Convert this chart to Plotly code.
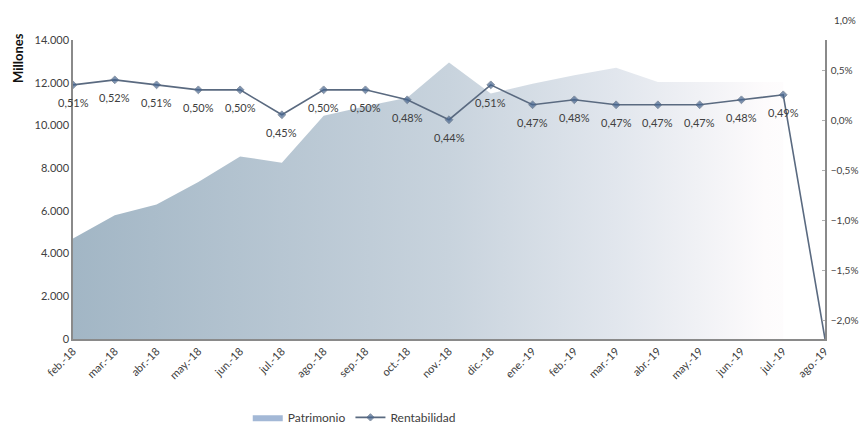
import plotly.graph_objects as go

categories = ["feb.-18", "mar.-18", "abr.-18", "may.-18", "jun.-18", "jul.-18", "ago.-18",
              "sep.-18", "oct.-18", "nov.-18", "dic.-18", "ene.-19", "feb.-19", "mar.-19",
              "abr.-19", "may.-19", "jun.-19", "jul.-19", "ago.-19"]
patrimonio = [4700, 5800, 6300, 7350, 8550, 8250, 10450, 10900, 11300, 12950, 11500, 11950,
              12350, 12700, 12030, 12030, 12030, 12030, None]
rentabilidad = [0.0051, 0.0052, 0.0051, 0.0050, 0.0050, 0.0045, 0.0050, 0.0050, 0.0048, 0.0044,
                0.0051, 0.0047, 0.0048, 0.0047, 0.0047, 0.0047, 0.0048, 0.0049, 0.0]
right_ticks = [-0.02, -0.015, -0.01, -0.005, 0.0, 0.005]

FONT = "Lato"
TXT = "#404040"
AXC = "#8a8a8a"

fig = go.Figure()
fig.add_trace(go.Scatter(
    x=categories, y=patrimonio, name="Patrimonio", mode="lines", showlegend=False,
    line=dict(width=0, color="#a3b8d6"), fill="tozeroy",
    fillgradient=dict(type="horizontal", start=0, stop=18, colorscale=[
        [0.0, "rgb(162,182,197)"], [0.5, "rgb(200,211,221)"], [0.72, "rgb(225,230,237)"],
        [0.83, "rgb(240,241,245)"], [0.92, "rgb(253,251,252)"], [1.0, "rgb(255,255,255)"]]),
    hoverinfo="skip"))
# legend entry for Patrimonio (solid swatch, as in the original)
fig.add_trace(go.Scatter(
    x=[categories[0]], y=[None], name="Patrimonio", mode="lines", fill="tozeroy",
    fillcolor="#a3b8d6", line=dict(width=0, color="#a3b8d6"), hoverinfo="skip"))
fig.add_trace(go.Scatter(
    x=[categories[0]], y=[None], yaxis="y2", showlegend=False, hoverinfo="skip", mode="lines"))
fig.add_trace(go.Scatter(
    x=categories, y=rentabilidad, name="Rentabilidad", yaxis="y3", mode="lines+markers",
    line=dict(color="#5a6a80", width=1.6),
    marker=dict(symbol="diamond", size=[6] * (len(categories) - 1) + [0], color="#46658f")))

for c, v in zip(categories[:-1], rentabilidad[:-1]):
    fig.add_annotation(x=c, y=v, yref="y3", yshift=-18, showarrow=False,
                       text=f"{v*100:.2f}%".replace(".", ","),
                       font=dict(family=FONT, size=11, color=TXT))

fig.add_annotation(xref="paper", yref="paper", x=(832 - 73) / 752, y=1 + 20 / 299,
                   xanchor="left", yanchor="middle", showarrow=False, text="1,0%",
                   font=dict(family=FONT, size=10, color=TXT))
fig.add_annotation(xref="paper", yref="paper", x=(18 - 73) / 752, y=(339 - 58) / 299,
                   xanchor="center", yanchor="middle", showarrow=False, text="<b>Millones</b>",
                   textangle=-90, font=dict(family=FONT, size=13, color="#111111"))

fig.update_layout(
    width=861, height=424, margin=dict(l=73, r=36, t=40, b=85, autoexpand=False),
    paper_bgcolor="white", plot_bgcolor="white", separators=",.",
    font=dict(family=FONT, size=11, color=TXT),
    showlegend=True,
    legend=dict(orientation="h", x=0.374, xanchor="center", y=-0.262, yanchor="middle",
                font=dict(family=FONT, size=12, color=TXT), traceorder="normal",
                itemwidth=30),
    xaxis=dict(type="category", range=[0, 18], showline=True, linecolor=AXC, linewidth=1.5,
               showgrid=False, tickangle=-45, tickfont=dict(size=11, color=TXT), ticks="",
               automargin=False),
    yaxis=dict(range=[0, 14000], dtick=2000, tickformat=",", showline=True, linecolor=AXC,
               linewidth=1.5, showgrid=False, zeroline=False, ticks="", tickfont=dict(size=11),
               automargin=False),
    yaxis2=dict(overlaying="y", side="right", range=[-0.0219, 0.008], tickvals=right_ticks,
                tickformat=".1%", showline=True, linecolor=AXC, linewidth=1.5, showgrid=False,
                zeroline=False, ticks="inside", ticklen=3, tickcolor="#b0b0b0",
                tickfont=dict(size=10), ticklabelstandoff=2, automargin=False),
    yaxis3=dict(overlaying="y", range=[0, 0.006], visible=False),
)

# place the figure at the page's top-left corner, without scrollbars
fig.write_html("out.html", config={"displayModeBar": False}, post_script=(
    "document.body.style.margin='0';"
    "document.documentElement.style.overflow='hidden';"
    "document.body.style.overflow='hidden';"))
